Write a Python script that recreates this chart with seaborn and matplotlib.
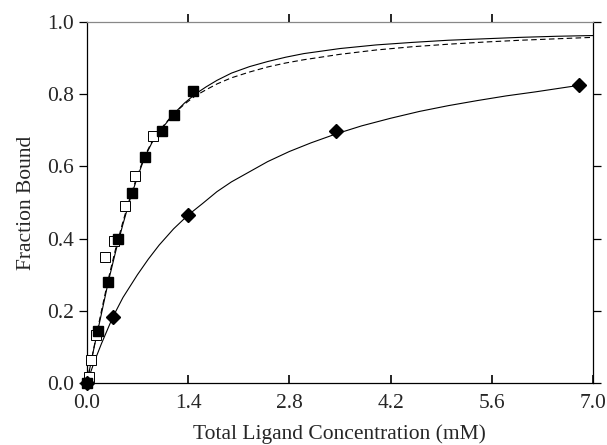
import matplotlib
matplotlib.use("Agg")
import matplotlib.pyplot as plt
import seaborn as sns

# filled squares (solid fit)
filled_x = [0.0, 0.15, 0.29, 0.43, 0.62, 0.80, 1.04, 1.20, 1.47]
filled_y = [0.0, 0.143, 0.280, 0.398, 0.525, 0.627, 0.698, 0.743, 0.808]

# open squares (dashed fit)
open_x = [0.027, 0.064, 0.134, 0.257, 0.374, 0.534, 0.668, 0.909]
open_y = [0.018, 0.063, 0.132, 0.348, 0.394, 0.491, 0.572, 0.685]

# diamonds (solid fit)
dia_x = [0.0, 0.36, 1.40, 3.45, 6.80]
dia_y = [0.0, 0.183, 0.465, 0.698, 0.824]

# fitted curves
fit_x = [0.0, 0.1, 0.2, 0.3, 0.4, 0.5, 0.6, 0.7, 0.8, 0.9, 1.0, 1.1, 1.2, 1.35,
         1.5, 1.65, 1.8, 2.0, 2.25, 2.5, 2.75, 3.0, 3.5, 4.0, 4.5, 5.0, 5.5,
         6.0, 6.5, 7.0]
fit_solid = [0.0, 0.098, 0.19, 0.283, 0.365, 0.44, 0.51, 0.57, 0.625, 0.665,
             0.695, 0.72, 0.745, 0.775, 0.80, 0.82, 0.838, 0.858, 0.876, 0.89,
             0.902, 0.912, 0.926, 0.936, 0.943, 0.949, 0.953, 0.957, 0.960, 0.962]
fit_dashed = [0.0, 0.10, 0.198, 0.29, 0.373, 0.447, 0.515, 0.575, 0.628, 0.668,
              0.698, 0.722, 0.745, 0.772, 0.795, 0.812, 0.828, 0.845, 0.861, 0.875,
              0.886, 0.895, 0.910, 0.922, 0.931, 0.938, 0.944, 0.949, 0.953, 0.957]

dia_fit_x = [0.0, 0.1, 0.2, 0.36, 0.5, 0.7, 0.85, 1.0, 1.2, 1.4, 1.6, 1.8, 2.0,
             2.25, 2.5, 2.8, 3.1, 3.45, 3.8, 4.2, 4.6, 5.0, 5.4, 5.8, 6.2, 6.8]
dia_fit_y = [0.0, 0.057, 0.108, 0.183, 0.237, 0.30, 0.343, 0.382, 0.427, 0.465,
             0.497, 0.53, 0.557, 0.585, 0.613, 0.641, 0.665, 0.69, 0.712, 0.733,
             0.752, 0.768, 0.782, 0.795, 0.806, 0.824]

xticks = [0.0, 1.4, 2.8, 4.2, 5.6, 7.0]
yticks = [0.0, 0.2, 0.4, 0.6, 0.8, 1.0]

sns.set_style("ticks")
plt.rcParams["font.family"] = ["Liberation Serif", "DejaVu Serif"]

fig = plt.figure(figsize=(6.07, 4.45), dpi=100)
ax = fig.add_axes([0.143, 0.139, 0.834, 0.812])

sns.lineplot(x=fit_x, y=fit_solid, ax=ax, color="black", lw=0.8)
sns.lineplot(x=fit_x, y=fit_dashed, ax=ax, color="black", lw=0.8, linestyle=(0, (5, 3)))
sns.lineplot(x=dia_fit_x, y=dia_fit_y, ax=ax, color="black", lw=0.8)

ax.plot(open_x, open_y, "s", ms=7, mfc="white", mec="black", mew=0.7, clip_on=False, zorder=3)
ax.plot(filled_x, filled_y, "s", ms=7.5, color="black", clip_on=False, zorder=4)
ax.plot(dia_x, dia_y, "D", ms=7.5, color="black", clip_on=False, zorder=4)

ax.set_xlim(0, 7.0)
ax.set_ylim(0, 1.0)
ax.set_xticks(xticks)
ax.set_yticks(yticks)
ax.set_xticklabels([f"{t:.1f}" for t in xticks])
ax.set_yticklabels([f"{t:.1f}" for t in yticks])

for s in ax.spines.values():
    s.set_linewidth(0.9)
    s.set_color("black")
ax.spines["top"].set_color("#888888")

ax.tick_params(axis="y", left=True, right=True, labelright=False, direction="out",
               length=6, width=0.9, color="black", labelsize=15.5, pad=3)
ax.tick_params(axis="x", bottom=True, top=False, direction="in", length=6, width=1.2,
               color="black", labelsize=15.5, pad=8)

# top ticks point outward (above the frame), bottom ones inward
ax.vlines(xticks[1:-1], 1.0, 1.022, transform=ax.get_xaxis_transform(),
          color="black", lw=1.2, clip_on=False, zorder=5)

ax.set_xlabel("Total Ligand Concentration (mM)", fontsize=15.5, labelpad=8)
ax.set_ylabel("Fraction Bound", fontsize=15.5, labelpad=8)

fig.savefig("out.png", dpi=100)
